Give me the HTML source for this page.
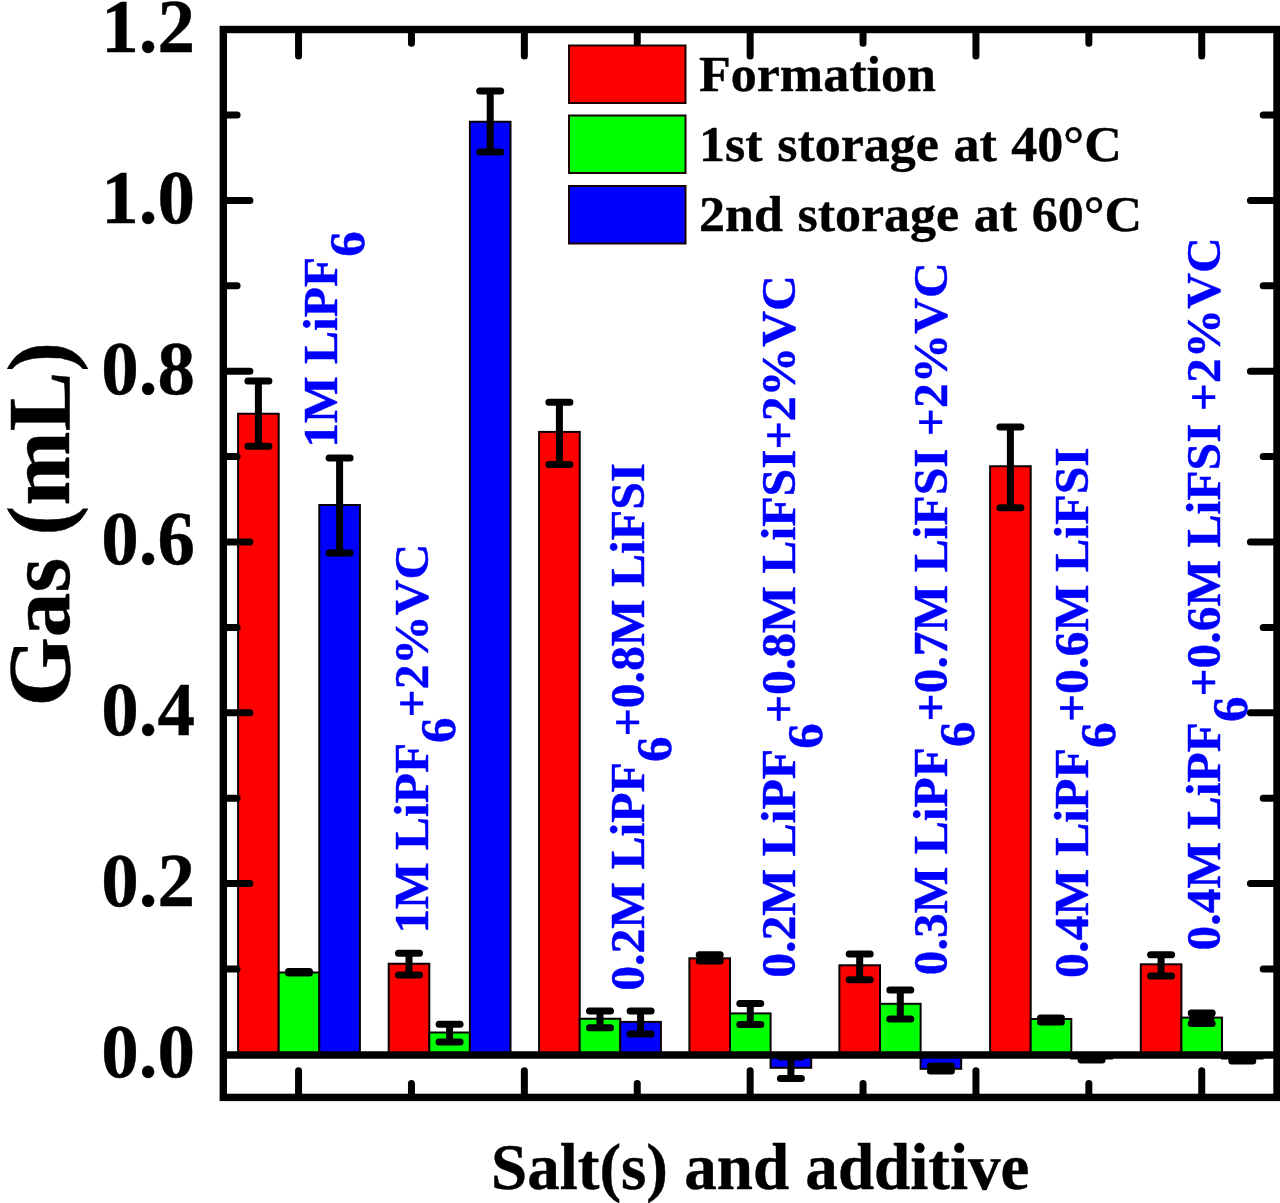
<!DOCTYPE html><html><head><meta charset="utf-8"><title>Gas volume chart</title>
<style>html,body{margin:0;padding:0;background:#fff}svg{display:block}text{font-family:"Liberation Serif",serif;font-weight:bold;stroke:#000;stroke-width:.4px;stroke-linejoin:round}.lb{stroke:#00f;stroke-width:.45px}</style></head><body>
<svg width="1280" height="1203" viewBox="0 0 1280 1203">
<rect width="1280" height="1203" fill="#fff"/>
<g><rect x="238.10" y="413.75" width="40.60" height="640.65" fill="#ff0000" stroke="#0a0000" stroke-width="2"/><rect x="278.70" y="972.50" width="40.60" height="81.90" fill="#00ff00" stroke="#0a0000" stroke-width="2"/><rect x="319.30" y="505.00" width="40.60" height="549.40" fill="#0000ff" stroke="#0a0000" stroke-width="2"/><rect x="388.70" y="963.75" width="40.60" height="90.65" fill="#ff0000" stroke="#0a0000" stroke-width="2"/><rect x="429.30" y="1032.50" width="40.60" height="21.90" fill="#00ff00" stroke="#0a0000" stroke-width="2"/><rect x="469.90" y="121.75" width="40.60" height="932.65" fill="#0000ff" stroke="#0a0000" stroke-width="2"/><rect x="539.10" y="431.90" width="40.60" height="622.50" fill="#ff0000" stroke="#0a0000" stroke-width="2"/><rect x="579.70" y="1018.75" width="40.60" height="35.65" fill="#00ff00" stroke="#0a0000" stroke-width="2"/><rect x="620.30" y="1021.90" width="40.60" height="32.50" fill="#0000ff" stroke="#0a0000" stroke-width="2"/><rect x="689.40" y="958.30" width="40.60" height="96.10" fill="#ff0000" stroke="#0a0000" stroke-width="2"/><rect x="730.00" y="1013.40" width="40.60" height="41.00" fill="#00ff00" stroke="#0a0000" stroke-width="2"/><rect x="770.60" y="1054.40" width="40.60" height="13.40" fill="#0000ff" stroke="#0a0000" stroke-width="2"/><rect x="839.40" y="965.30" width="40.60" height="89.10" fill="#ff0000" stroke="#0a0000" stroke-width="2"/><rect x="880.00" y="1003.80" width="40.60" height="50.60" fill="#00ff00" stroke="#0a0000" stroke-width="2"/><rect x="920.60" y="1054.40" width="40.60" height="14.40" fill="#0000ff" stroke="#0a0000" stroke-width="2"/><rect x="990.10" y="466.25" width="40.60" height="588.15" fill="#ff0000" stroke="#0a0000" stroke-width="2"/><rect x="1030.70" y="1019.00" width="40.60" height="35.40" fill="#00ff00" stroke="#0a0000" stroke-width="2"/><rect x="1071.30" y="1054.40" width="40.60" height="4.10" fill="#0000ff" stroke="#0a0000" stroke-width="2"/><rect x="1140.80" y="964.30" width="40.60" height="90.10" fill="#ff0000" stroke="#0a0000" stroke-width="2"/><rect x="1181.40" y="1017.60" width="40.60" height="36.80" fill="#00ff00" stroke="#0a0000" stroke-width="2"/><rect x="1222.00" y="1054.40" width="40.60" height="4.10" fill="#0000ff" stroke="#0a0000" stroke-width="2"/></g>
<g fill="none" stroke="#000" stroke-width="7" stroke-linecap="round"><path d="M258.40 381.00V446.20M247.90 381.00h21M247.90 446.20h21"/><path d="M299.00 971.50V973.00M288.50 971.50h21M288.50 973.00h21"/><path d="M339.60 458.00V553.00M329.10 458.00h21M329.10 553.00h21"/><path d="M409.00 953.25V975.00M398.50 953.25h21M398.50 975.00h21"/><path d="M449.60 1024.25V1042.00M439.10 1024.25h21M439.10 1042.00h21"/><path d="M490.20 91.00V152.00M479.70 91.00h21M479.70 152.00h21"/><path d="M559.40 402.25V464.40M548.90 402.25h21M548.90 464.40h21"/><path d="M600.00 1011.00V1027.75M589.50 1011.00h21M589.50 1027.75h21"/><path d="M640.60 1011.00V1034.00M630.10 1011.00h21M630.10 1034.00h21"/><path d="M709.70 954.70V961.00M699.20 954.70h21M699.20 961.00h21"/><path d="M750.30 1003.50V1024.40M739.80 1003.50h21M739.80 1024.40h21"/><path d="M790.90 1057.00V1078.40M780.40 1057.00h21M780.40 1078.40h21"/><path d="M859.70 954.00V979.75M849.20 954.00h21M849.20 979.75h21"/><path d="M900.30 990.00V1019.00M889.80 990.00h21M889.80 1019.00h21"/><path d="M940.90 1066.00V1071.00M930.40 1066.00h21M930.40 1071.00h21"/><path d="M1010.40 426.90V507.75M999.90 426.90h21M999.90 507.75h21"/><path d="M1051.00 1018.00V1022.00M1040.50 1018.00h21M1040.50 1022.00h21"/><path d="M1091.60 1059.00V1060.00M1081.10 1059.00h21M1081.10 1060.00h21"/><path d="M1161.10 954.70V976.00M1150.60 954.70h21M1150.60 976.00h21"/><path d="M1201.70 1013.00V1023.60M1191.20 1013.00h21M1191.20 1023.60h21"/><path d="M1242.30 1060.00V1061.00M1231.80 1060.00h21M1231.80 1061.00h21"/><path d="M1201.7 1013V1023.6" stroke-width="25" stroke-linecap="butt"/></g>
<line x1="223.3" y1="1055.0" x2="1281.0" y2="1055.0" stroke="#000" stroke-width="7.3"/>
<rect x="223.3" y="29.5" width="1053.7" height="1067.9" fill="none" stroke="#000" stroke-width="7.4"/>
<path d="M224.3 969.00h12.8M1276.0 969.00h-12.8M224.3 883.60h25.6M1276.0 883.60h-25.6M224.3 798.20h12.8M1276.0 798.20h-12.8M224.3 712.80h25.6M1276.0 712.80h-25.6M224.3 627.40h12.8M1276.0 627.40h-12.8M224.3 542.00h25.6M1276.0 542.00h-25.6M224.3 456.60h12.8M1276.0 456.60h-12.8M224.3 371.20h25.6M1276.0 371.20h-25.6M224.3 285.80h12.8M1276.0 285.80h-12.8M224.3 200.40h25.6M1276.0 200.40h-25.6M224.3 115.00h12.8M1276.0 115.00h-12.8M298.56 30.5v25.6M298.56 1096.4v-25.6M411.46 30.5v12.8M411.46 1096.4v-12.8M524.36 30.5v25.6M524.36 1096.4v-25.6M637.25 30.5v12.8M637.25 1096.4v-12.8M750.15 30.5v25.6M750.15 1096.4v-25.6M863.05 30.5v12.8M863.05 1096.4v-12.8M975.94 30.5v25.6M975.94 1096.4v-25.6M1088.84 30.5v12.8M1088.84 1096.4v-12.8M1201.74 30.5v25.6M1201.74 1096.4v-25.6" fill="none" stroke="#000" stroke-width="7" stroke-linecap="round"/>
<text transform="translate(195,1076.7) scale(1,1.015)" font-size="75" text-anchor="end">0.0</text>
<text transform="translate(195,905.9) scale(1,1.015)" font-size="75" text-anchor="end">0.2</text>
<text transform="translate(195,735.1) scale(1,1.015)" font-size="75" text-anchor="end">0.4</text>
<text transform="translate(195,564.3) scale(1,1.015)" font-size="75" text-anchor="end">0.6</text>
<text transform="translate(195,393.5) scale(1,1.015)" font-size="75" text-anchor="end">0.8</text>
<text transform="translate(195,222.7) scale(1,1.015)" font-size="75" text-anchor="end">1.0</text>
<text transform="translate(195,51.9) scale(1,1.015)" font-size="75" text-anchor="end">1.2</text>
<text transform="translate(68.7,706.6) rotate(-90)" font-size="89.3">Gas (mL)</text>
<text transform="translate(491,1189) scale(0.996,1)" font-size="65.3">Salt(s) and additive</text>
<rect x="569" y="45.5" width="116.5" height="57.5" fill="#ff0000" stroke="#1a0000" stroke-width="2"/>
<text transform="translate(699,90.75) scale(1,0.985)" font-size="52" word-spacing="1.6">Formation</text>
<rect x="569" y="115.5" width="116.5" height="57.5" fill="#00ff00" stroke="#1a0000" stroke-width="2"/>
<text transform="translate(699,160.75) scale(1,0.985)" font-size="52" word-spacing="1.6">1st storage at 40°C</text>
<rect x="569" y="186" width="116.5" height="57.5" fill="#0000ff" stroke="#1a0000" stroke-width="2"/>
<text transform="translate(699,231.25) scale(1,0.985)" font-size="52" word-spacing="1.6">2nd storage at 60°C</text>
<text transform="translate(336.5,447.8) rotate(-90) scale(1.0,1)" class="lb" font-size="49.5" fill="#0000ff" xml:space="preserve">1M LiPF<tspan dy="27" font-size="51">6</tspan></text>
<text transform="translate(427.9,933.6) rotate(-90) scale(0.998,1)" class="lb" font-size="49.5" fill="#0000ff" xml:space="preserve">1M LiPF<tspan dy="27" font-size="51">6</tspan><tspan dy="-27">+2%VC</tspan></text>
<text transform="translate(643.8,990.8) rotate(-90) scale(1.0025,1)" class="lb" font-size="49.5" fill="#0000ff" xml:space="preserve">0.2M LiPF<tspan dy="27" font-size="51">6</tspan><tspan dy="-27">+0.8M LiFSI</tspan></text>
<text transform="translate(794.9,977.7) rotate(-90) scale(1.003,1)" class="lb" font-size="49.5" fill="#0000ff" xml:space="preserve">0.2M LiPF<tspan dy="27" font-size="51">6</tspan><tspan dy="-27">+0.8M LiFSI+2%VC</tspan></text>
<text transform="translate(947.2,975.2) rotate(-90) scale(1.0,1)" class="lb" font-size="49.5" fill="#0000ff" xml:space="preserve">0.3M LiPF<tspan dy="27" font-size="51">6</tspan><tspan dy="-27">+0.7M LiFSI +2%VC</tspan></text>
<text transform="translate(1087.5,978.0) rotate(-90) scale(1.008,1)" class="lb" font-size="49.5" fill="#0000ff" xml:space="preserve">0.4M LiPF<tspan dy="27" font-size="51">6</tspan><tspan dy="-27">+0.6M LiFSI</tspan></text>
<text transform="translate(1219.8,950.4) rotate(-90) scale(1.0005,1)" class="lb" font-size="49.5" fill="#0000ff" xml:space="preserve">0.4M LiPF<tspan dy="27" font-size="51">6</tspan><tspan dy="-27">+0.6M LiFSI +2%VC</tspan></text>
</svg></body></html>
